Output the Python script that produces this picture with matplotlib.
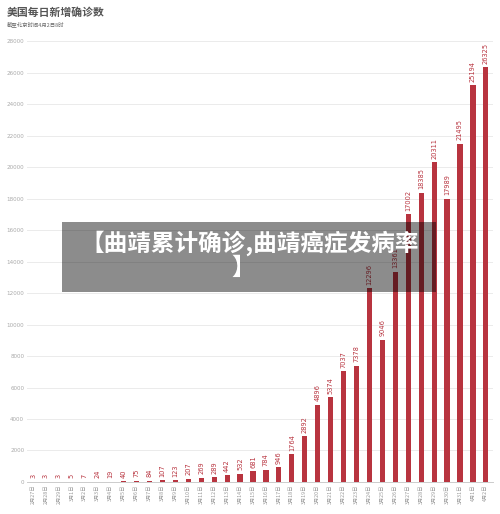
import matplotlib.pyplot as plt
from matplotlib.patches import Rectangle

plt.rcParams['font.family'] = ['Noto Sans CJK SC', 'DejaVu Sans']

dates = ['2月27日', '2月28日', '2月29日'] + [f'3月{d}日' for d in range(1, 32)] + ['4月1日', '4月2日']
cases = [3, 3, 3, 5, 7, 24, 19, 40, 75, 84, 107, 123, 207, 269, 289, 442, 532,
         681, 784, 946, 1764, 2892, 4896, 5374, 7037, 7378, 12296, 9046, 13361,
         17002, 18385, 20311, 17989, 21495, 25194, 26325]
yticks = list(range(0, 28001, 2000))

bar_color = '#b8343f'

fig = plt.figure(figsize=(5, 5.14), dpi=100)
ax = fig.add_axes([0.054, 0.0623, 0.932, 0.8577])

x = list(range(len(dates)))
ax.bar(x, cases, width=0.4, color=bar_color, zorder=2)
for i, v in zip(x, cases):
    ax.annotate(str(v), (i, v), xytext=(0, 2.5), textcoords='offset points',
                rotation=90, ha='center', va='bottom', fontsize=4.8,
                color=bar_color, family='DejaVu Sans')

ax.set_xlim(-0.47, 35.55)
ax.set_ylim(0, 28000)
ax.set_yticks(yticks)
ax.set_yticklabels([str(t) for t in yticks], fontsize=4.1, color='#aaaaaa', family='DejaVu Sans')
ax.set_xticks(x)
ax.set_xticklabels(dates, rotation=90, fontsize=3.8, color='#999999')
ax.tick_params(axis='both', length=0, pad=2)
ax.grid(axis='y', color='#ebebeb', linewidth=0.7, zorder=0)
for s in ['top', 'right', 'left']:
    ax.spines[s].set_visible(False)
ax.spines['bottom'].set_color('#cccccc')
ax.spines['bottom'].set_linewidth(0.7)

fig.text(0.014, 0.976, '美国每日新增确诊数', fontsize=7.8, fontweight='bold',
         color='#555555', va='center', ha='left')
fig.text(0.014, 0.953, '截至北京时间4月2日8时', fontsize=3.9, color='#666666',
         va='center', ha='left')

# overlay banner
fig.patches.append(Rectangle((0.124, 1 - 292 / 514), 0.748, 70 / 514,
                             transform=fig.transFigure, facecolor='black',
                             alpha=0.45, edgecolor='none', zorder=5))
fig.text(0.5, 1 - 243 / 514, '【曲靖累计确诊,曲靖癌症发病率', fontsize=17,
         fontweight='bold', color='white', ha='center', va='center', zorder=6)
fig.text(0.486, 1 - 268 / 514, '】', fontsize=17,
         fontweight='bold', color='white', ha='center', va='center', zorder=6)

fig.savefig('out.png', dpi=100)
